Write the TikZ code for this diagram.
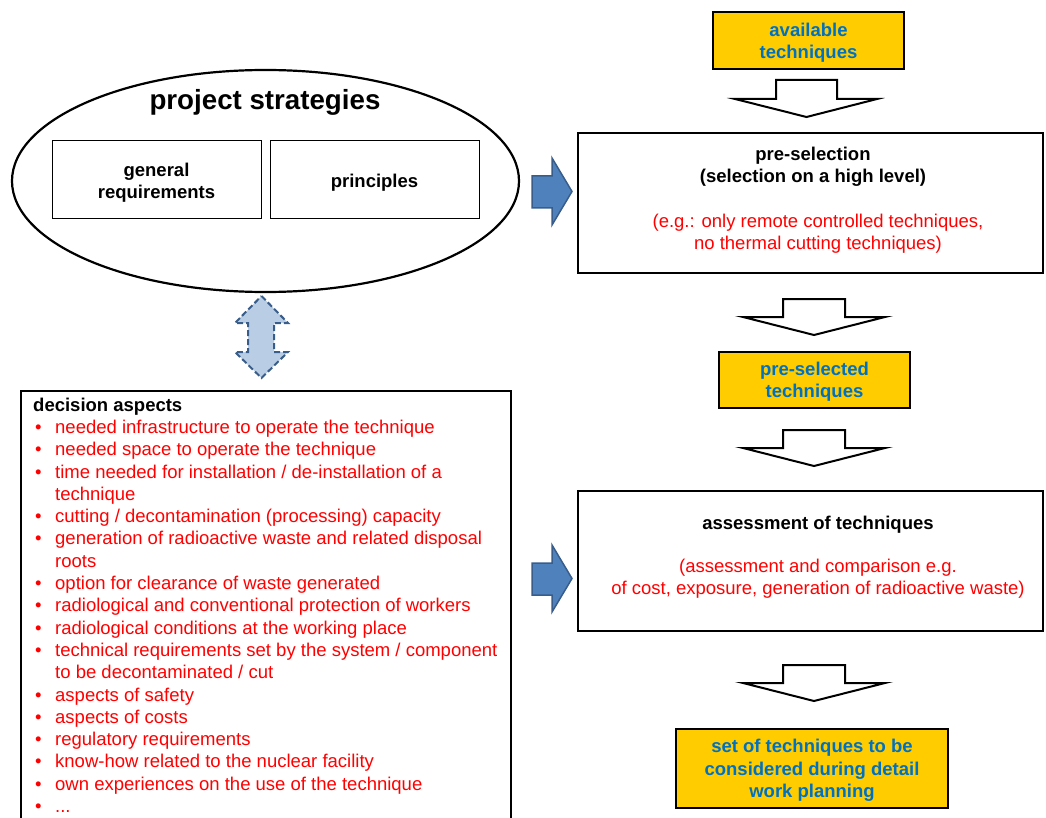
\documentclass[tikz,border=0pt]{standalone}
\usepackage{fontspec}
\setmainfont{Liberation Sans}
\usetikzlibrary{shapes.geometric}
\definecolor{gold}{RGB}{255,204,0}
\definecolor{tblue}{RGB}{0,112,192}
\definecolor{tred}{RGB}{255,0,0}
\definecolor{afill}{RGB}{79,129,189}
\definecolor{aline}{RGB}{56,93,138}
\definecolor{lfill}{RGB}{185,205,229}
\newcommand{\fs}{\fontsize{18.5}{22.3}\selectfont}
\newcommand{\bul}{\makebox[22pt][l]{\hspace{2pt}•}}
\newcommand{\ind}{\hspace*{22pt}}
\newcommand{\lowr}[1]{\rule{0pt}{#1}}
\begin{document}
\begin{tikzpicture}[x=1pt,y=-1pt,
  every node/.style={font=\fs, inner sep=0pt},
  box/.style={draw, line width=2pt, rectangle},
  goldbox/.style={box, fill=gold, text=tblue, font=\bfseries\fs, align=center},
  btext/.style={font=\bfseries\fs, align=center},
  rtext/.style={text=tred, align=center},
  whitearrow/.style={draw, line width=2pt, fill=white, line join=miter},
  bluearrow/.style={draw=aline, line width=1.5pt, fill=afill, line join=miter},
  dblarrow/.style={draw=aline, line width=2pt, fill=lfill, dashed, dash pattern=on 6pt off 3pt, line join=miter},
]
\clip (0,0) rectangle (1046,818);
% project strategies
\node[ellipse, draw, line width=2.2pt, minimum width=507, minimum height=222] (ell) at (265.5,181) {};
\node[font=\bfseries\fontsize{27.7}{32}\selectfont] (ps) at (265,102) {project strategies};
\node[box, line width=1pt, minimum width=209, minimum height=78, btext] (gen) at (156.5,180) {\lowr{19.5pt}general\\requirements};
\node[box, line width=1pt, minimum width=209, minimum height=78, btext] (pri) at (374.5,180) {\lowr{19.5pt}principles};
% double arrow
\draw[dblarrow] (261.5,296) -- (288,323) -- (274,323) -- (274,352) -- (288,352) -- (261.5,378) -- (235,352) -- (248,352) -- (248,323) -- (235,323) -- cycle;
% decision aspects
\node[box, anchor=north west, minimum width=490, minimum height=460] (dec) at (20,390) {};
\node[anchor=north west, align=left, text=tred] (dect) at (33,397.5) {%
\textcolor{black}{\bfseries decision aspects}\\
\bul needed infrastructure to operate the technique\\
\bul needed space to operate the technique\\
\bul time needed for installation / de-installation of a\\
\ind technique\\
\bul cutting / decontamination (processing) capacity\\
\bul generation of radioactive waste and related disposal\\
\ind roots\\
\bul option for clearance of waste generated\\
\bul radiological and conventional protection of workers\\
\bul radiological conditions at the working place\\
\bul technical requirements set by the system / component\\
\ind to be decontaminated / cut\\
\bul aspects of safety\\
\bul aspects of costs\\
\bul regulatory requirements\\
\bul know-how related to the nuclear facility\\
\bul own experiences on the use of the technique\\
\bul ...};
% blue arrows
\draw[bluearrow] (532,176) -- (552,176) -- (552,158) -- (572,191.5) -- (552,225) -- (552,208) -- (532,208) -- cycle;
\draw[bluearrow] (532,563) -- (552,563) -- (552,545) -- (572,578.5) -- (552,612) -- (552,595) -- (532,595) -- cycle;
% right column
\node[goldbox, minimum width=191, minimum height=57] (avail) at (808.5,40.5) {\lowr{17.5pt}available\\techniques};
\draw[whitearrow] (776,80) -- (837,80) -- (837,99) -- (877,99) -- (806.5,117) -- (735,99) -- (776,99) -- cycle;
\node[box, minimum width=465, minimum height=140] (pre) at (810.5,203) {};
\node[btext] (pret) at (813,167) {pre-selection\\(selection on a high level)};
\node[rtext] (prer) at (818,234) {(e.g.: only remote controlled techniques,\\no thermal cutting techniques)};
\draw[whitearrow] (783,299) -- (845,299) -- (845,317) -- (885,317) -- (814,335) -- (743,317) -- (783,317) -- cycle;
\node[goldbox, minimum width=191, minimum height=56] (presel) at (814.5,380) {\lowr{17.5pt}pre-selected\\techniques};
\draw[whitearrow] (783,430) -- (845,430) -- (845,448) -- (885,448) -- (814,466) -- (743,448) -- (783,448) -- cycle;
\node[box, minimum width=465, minimum height=140] (ass) at (810.5,561) {};
\node[btext] (asst) at (818,525) {assessment of techniques};
\node[rtext] (assr) at (818,579) {(assessment and comparison e.g.\\of cost, exposure, generation of radioactive waste)};
\draw[whitearrow] (783,665) -- (845,665) -- (845,683) -- (885,683) -- (814,701) -- (743,683) -- (783,683) -- cycle;
\node[goldbox, minimum width=272, minimum height=79] (final) at (812,768.5) {\lowr{17.5pt}set of techniques to be\\considered during detail\\work planning};
\end{tikzpicture}
\end{document}
